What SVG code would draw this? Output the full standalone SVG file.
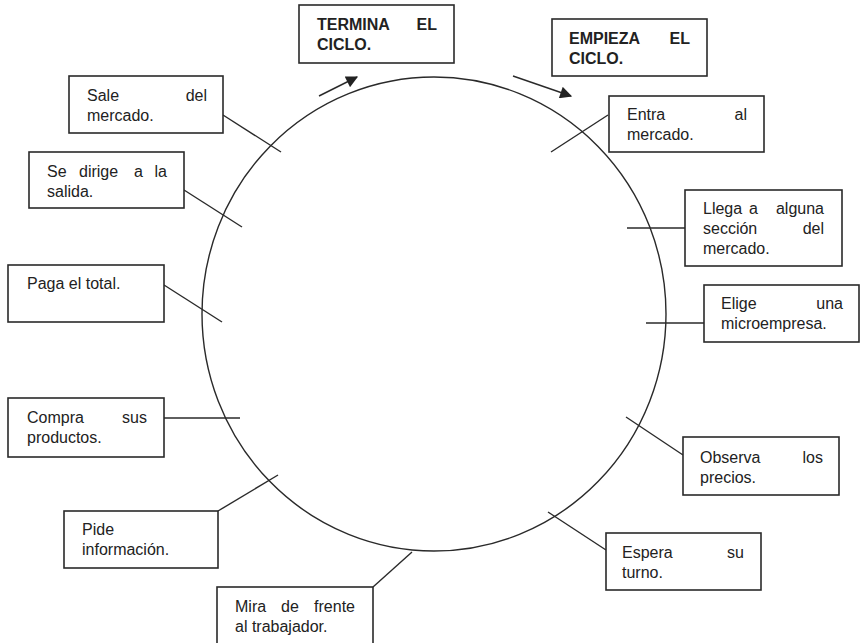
<svg xmlns="http://www.w3.org/2000/svg" width="860" height="643" viewBox="0 0 860 643">
<style>
.box{fill:#fff;stroke:#2a2a2a;stroke-width:1.6}
.t{font-family:"Liberation Sans",Arial,sans-serif;font-size:16px;fill:#222}
.b{font-weight:bold}
.c{stroke:#2a2a2a;stroke-width:1.4;fill:none}
.e{text-anchor:end}
</style>
<defs>
<marker id="ah" viewBox="0 0 10 10" refX="9" refY="5" markerWidth="14" markerHeight="12" markerUnits="userSpaceOnUse" orient="auto">
<path d="M0,0 L10,5 L0,10 z" fill="#222"/>
</marker>
</defs>
<rect width="860" height="643" fill="#fff"/>
<ellipse cx="434" cy="314" rx="232" ry="237" class="c"/>
<g id="connectors">
<line class="c" x1="223" y1="115" x2="281" y2="152"/>
<line class="c" x1="184" y1="190" x2="242" y2="227"/>
<line class="c" x1="164" y1="285" x2="222" y2="322"/>
<line class="c" x1="164" y1="418" x2="240" y2="418"/>
<line class="c" x1="218" y1="511" x2="278" y2="475"/>
<line class="c" x1="373" y1="587" x2="412" y2="552"/>
<line class="c" x1="606" y1="550" x2="548" y2="512"/>
<line class="c" x1="683" y1="455" x2="626" y2="417"/>
<line class="c" x1="704" y1="323" x2="646" y2="323"/>
<line class="c" x1="685" y1="228" x2="627" y2="228"/>
<line class="c" x1="608" y1="115" x2="551" y2="152"/>
<line class="c" x1="319" y1="96" x2="357" y2="77" marker-end="url(#ah)"/>
<line class="c" x1="513" y1="76" x2="571" y2="96" marker-end="url(#ah)"/>
</g>
<g id="termina">
<rect class="box" x="299" y="5" width="155" height="58"/>
<text class="t b" x="317" y="30">TERMINA</text><text class="t b e" x="437" y="30">EL</text>
<text class="t b" x="317" y="50">CICLO.</text>
</g>
<g id="empieza">
<rect class="box" x="552" y="19" width="155" height="57"/>
<text class="t b" x="569" y="44">EMPIEZA</text><text class="t b e" x="690" y="44">EL</text>
<text class="t b" x="569" y="64">CICLO.</text>
</g>
<g id="entra">
<rect class="box" x="609" y="96" width="155" height="56"/>
<text class="t" x="627" y="120">Entra</text><text class="t e" x="747" y="120">al</text>
<text class="t" x="627" y="140">mercado.</text>
</g>
<g id="llega">
<rect class="box" x="685" y="190" width="157" height="76"/>
<text class="t" x="703" y="214">Llega</text><text class="t" x="749" y="214">a</text><text class="t e" x="824" y="214">alguna</text>
<text class="t" x="703" y="234">sección</text><text class="t e" x="824" y="234">del</text>
<text class="t" x="703" y="254">mercado.</text>
</g>
<g id="elige">
<rect class="box" x="704" y="285" width="155" height="57"/>
<text class="t" x="721" y="309">Elige</text><text class="t e" x="843" y="309">una</text>
<text class="t" x="721" y="329">microempresa.</text>
</g>
<g id="observa">
<rect class="box" x="683" y="437" width="156" height="58"/>
<text class="t" x="700" y="463">Observa</text><text class="t e" x="823" y="463">los</text>
<text class="t" x="700" y="483">precios.</text>
</g>
<g id="espera">
<rect class="box" x="606" y="533" width="155" height="57"/>
<text class="t" x="622" y="558">Espera</text><text class="t e" x="744" y="558">su</text>
<text class="t" x="622" y="578">turno.</text>
</g>
<g id="mira">
<rect class="box" x="217" y="587" width="156" height="58"/>
<text class="t" x="235" y="612">Mira</text><text class="t" x="281" y="612">de</text><text class="t e" x="355" y="612">frente</text>
<text class="t" x="235" y="632">al trabajador.</text>
</g>
<g id="pide">
<rect class="box" x="64" y="511" width="154" height="57"/>
<text class="t" x="82" y="535">Pide</text>
<text class="t" x="82" y="555">información.</text>
</g>
<g id="compra">
<rect class="box" x="8" y="398" width="156" height="59"/>
<text class="t" x="27" y="423">Compra</text><text class="t e" x="147" y="423">sus</text>
<text class="t" x="27" y="443">productos.</text>
</g>
<g id="paga">
<rect class="box" x="8" y="265" width="156" height="57"/>
<text class="t" x="27" y="289">Paga el total.</text>
</g>
<g id="sedirige">
<rect class="box" x="29" y="152" width="155" height="56"/>
<text class="t" x="47" y="177">Se</text><text class="t" x="79" y="177">dirige</text><text class="t" x="134" y="177">a</text><text class="t e" x="167" y="177">la</text>
<text class="t" x="47" y="197">salida.</text>
</g>
<g id="sale">
<rect class="box" x="69" y="76" width="154" height="57"/>
<text class="t" x="87" y="101">Sale</text><text class="t e" x="207" y="101">del</text>
<text class="t" x="87" y="121">mercado.</text>
</g>
</svg>
